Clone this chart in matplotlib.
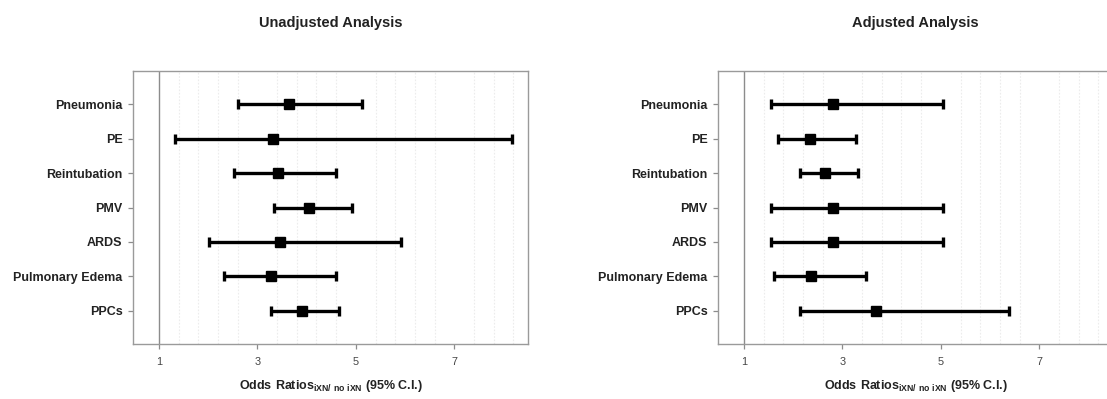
import numpy as np
import matplotlib
matplotlib.use("Agg")
import matplotlib.pyplot as plt

plt.rcParams["font.family"] = ["Liberation Sans", "DejaVu Sans"]
plt.rcParams["mathtext.fontset"] = "custom"
plt.rcParams["mathtext.rm"] = "Liberation Sans"
plt.rcParams["mathtext.bf"] = "Liberation Sans:bold"

# Outcomes, listed from top to bottom
outcomes = ["Pneumonia", "PE", "Reintubation", "PMV", "ARDS",
            "Pulmonary Edema", "PPCs"]

# Unadjusted odds ratios with 95% confidence limits
unadj_or = [3.64, 3.31, 3.42, 4.05, 3.45, 3.28, 3.91]
unadj_lo = [2.60, 1.33, 2.53, 3.34, 2.02, 2.33, 3.28]
unadj_hi = [5.13, 8.18, 4.60, 4.93, 5.91, 4.60, 4.65]

# Adjusted odds ratios with 95% confidence limits
adj_or = [2.80, 2.34, 2.65, 2.80, 2.80, 2.36, 3.68]
adj_lo = [1.55, 1.68, 2.13, 1.55, 1.55, 1.60, 2.13]
adj_hi = [5.05, 3.28, 3.31, 5.05, 5.05, 3.47, 6.39]

x_ticks = [1, 3, 5, 7]
panel_titles = ["Unadjusted Analysis", "Adjusted Analysis"]
x_label = r"$\mathbf{Odds\ Ratios}_{\mathbf{iXN/\ no\ iXN}}$ (95% C.I.)"

fig = plt.figure(figsize=(11.07, 3.99), dpi=100)

W, H = 1107, 399
ax_w = 395 / W
ax_h = (344 - 71) / H
ax_y = 1 - 344 / H
panels = [
    (133 / W, panel_titles[0], unadj_or, unadj_lo, unadj_hi),
    (718 / W, panel_titles[1], adj_or, adj_lo, adj_hi),
]

ypos = np.arange(len(outcomes))[::-1] + 1

for i, (x0, title, est, lo, hi) in enumerate(panels):
    ax = fig.add_axes([x0, ax_y, ax_w, ax_h])
    est = np.asarray(est)
    lo = np.asarray(lo)
    hi = np.asarray(hi)

    # faint dotted vertical guides every 0.4 units
    ax.set_xticks(np.arange(1.0, 8.6, 0.4), minor=True)
    ax.grid(True, which="minor", axis="x", color="#ececec",
            linestyle=(0, (1.5, 1.5)), linewidth=0.8, zorder=0)
    ax.tick_params(axis="x", which="minor", length=0)

    # null-effect reference line
    ax.axvline(1, color="#8c8c8c", linewidth=1.0, zorder=1)

    ax.errorbar(est, ypos, xerr=[est - lo, hi - est], fmt="s",
                color="black", ecolor="black", elinewidth=2.4,
                capsize=3.6, capthick=2.4, markersize=6.5, zorder=3)

    ax.set_xlim(0.47, 8.5)
    ax.set_ylim(0.04, 7.96)
    ax.set_xticks(x_ticks)
    ax.set_xticklabels([str(t) for t in x_ticks])
    ax.set_yticks(ypos)
    ax.set_yticklabels(outcomes, fontweight="bold", fontsize=9,
                       color="#222222")

    for sp in ax.spines.values():
        sp.set_color("#9a9a9a")
        sp.set_linewidth(1.0)
    if i == 1:
        ax.spines["right"].set_visible(False)
    ax.tick_params(axis="both", which="major", color="#8c8c8c",
                   length=3.5, width=0.9)
    ax.tick_params(axis="x", which="major", labelsize=7.8,
                   labelcolor="#444444", pad=6)
    ax.tick_params(axis="y", which="major", pad=4)

    ax.set_xlabel(x_label, fontsize=9, fontweight="bold",
                  color="#222222", labelpad=8)

    cx = x0 + ax_w / 2
    fig.text(cx, 1 - 23 / H, title, ha="center", va="center",
             fontsize=10.5, fontweight="bold", color="#222222")

fig.savefig("out.png", dpi=100, facecolor="white")
